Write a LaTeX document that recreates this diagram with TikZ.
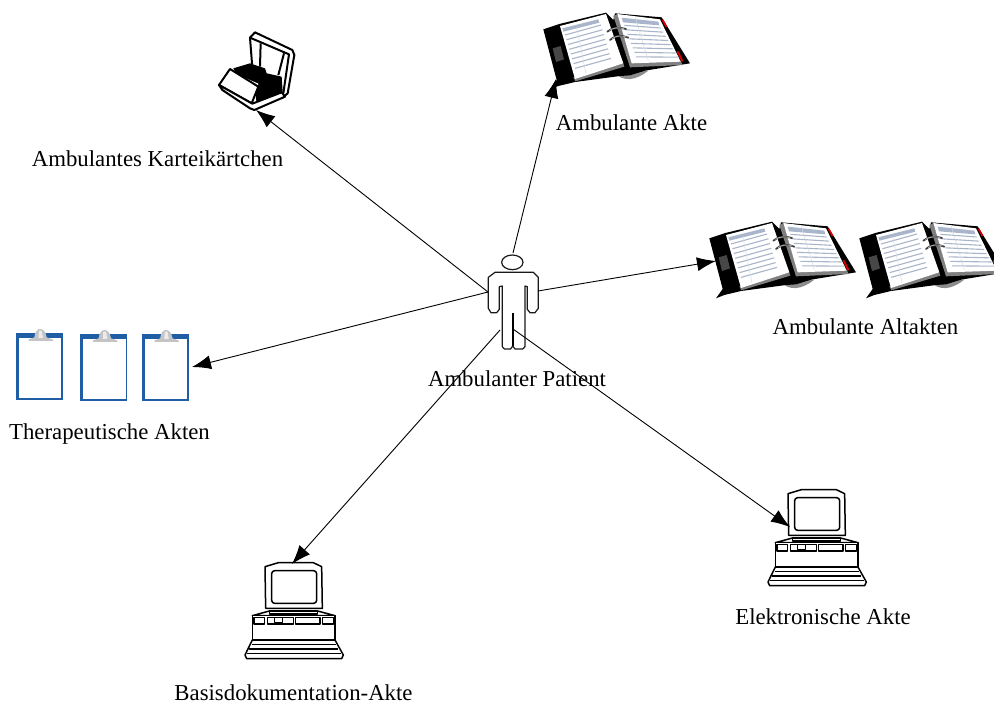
\documentclass[tikz,border=0pt]{standalone}
\usepackage{fontspec}
\setmainfont{Liberation Serif}
\usetikzlibrary{arrows.meta}
\definecolor{clipblue}{HTML}{1F5EA5}
\definecolor{clipgrey}{HTML}{C4C4C4}
\definecolor{pageline}{HTML}{A9B5CA}
\definecolor{pagegrey}{HTML}{808080}
\tikzset{
  lbl/.style={inner sep=0pt,font=\fontsize{22.8}{26}\selectfont,text=black,anchor=base},
  conn/.style={draw=black,line width=0.9pt,-{Latex[length=19pt,width=14pt]}},
  ico/.style={draw=black,line width=1.5pt,line join=round,fill=white},
  card/.style={draw=black,line width=2pt,line join=round,fill=white},
  bookicon/.pic={
    \fill[black!45] (250,215) .. controls (280,250) and (320,240) .. (355,212) -- cycle;
    \fill[black] (40,88)--(88,72)--(228,38)--(250,60)--(255,40)--(395,52)--(480,190)--(345,212)--(300,226)--(270,228)--(135,246)--(85,258)--(60,268)--(80,240)--cycle;
    \fill[black!72] (68,145)--(92,138)--(102,178)--(78,186)--cycle;
    \fill[pagegrey] (280,190)--(283,200)--(136,244)--(130,232)--cycle;
    \fill[white] (90,78)--(228,42)--(280,190)--(135,237)--cycle;
    \fill[pageline] (97,85)--(205,58)--(208,68)--(100,95)--cycle;
    \foreach \t in {0,1,...,7}{
      \draw[pageline,line width=1.1pt] ({105+\t*4.3},{105+\t*14.3}) -- ({213+\t*4.3},{75+\t*14.3});
    }
    \draw[pageline!50,line width=0.5pt] (140,82)--(168,222);
    \fill[pagegrey] (250,48)--(262,42)--(305,186)--(452,182)--(458,195)--(300,202)--cycle;
    \fill[white] (262,42)--(390,58)--(452,185)--(305,190)--cycle;
    \fill[pageline] (275,53)--(385,65)--(388,76)--(279,67)--cycle;
    \foreach \t in {0,1,...,7}{
      \draw[pageline,line width=1.1pt] ({283+\t*5},{76+\t*13.5}) -- ({392+\t*7.5},{84+\t*12.5});
    }
    \draw[pageline!50,line width=0.5pt] (315,50)--(355,182);
    \fill[red!85!black] (395,60)--(400,58)--(412,80)--(407,82)--cycle;
    \fill[red!85!black] (440,155)--(445,153)--(460,182)--(455,186)--cycle;
    \draw[black!75,line width=1.8pt,line cap=round] (232,95) .. controls (245,83) and (268,80) .. (288,87);
    \draw[black!75,line width=1.8pt,line cap=round] (240,120) .. controls (252,107) and (275,104) .. (295,113);
    \draw[black!25,line width=0.6pt] (238,91) .. controls (250,83) and (268,82) .. (282,86);
    \draw[black!25,line width=0.6pt] (246,116) .. controls (257,107) and (275,106) .. (289,111);
  },
  clipicon/.pic={
    \fill[clipblue] (0,0) rectangle (141,200);
    \fill[white] (10,15) rectangle (137,195);
    \fill[clipgrey] (38,24) -- (40,18) -- (56,12) .. controls (58,-6) and (66,-13) .. (73,-13) .. controls (82,-13) and (90,-6) .. (93,12) -- (110,18) -- (114,24) -- cycle;
    \fill[black!8] (70,-8) -- (78,-8) -- (82,14) -- (68,14) -- cycle;
    \fill[white] (38,24) rectangle (114,27);
  },
  compicon/.pic={
    \draw[ico] (90,50)--(130,38)--(235,38)--(260,50)--(262,175)--(92,175)--cycle;
    \draw[ico,rounded corners=3pt] (110,62) rectangle (245,160);
    \draw[ico] (52,197)--(103,183)--(248,183)--(300,197)--cycle;
    \draw[ico] (103,183) rectangle (248,192);
    \draw[ico] (52,197) rectangle (300,270);
    \draw[ico] (57,203) rectangle (88,222);
    \draw[ico] (97,203) rectangle (175,222);
    \draw[ico] (118,203) rectangle (142,218);
    \draw[ico] (182,203) rectangle (255,222);
    \draw[ico] (262,203) rectangle (296,222);
    \draw[ico] (52,270)--(30,315)--(35,326)--(320,326)--(325,315)--(300,270)--cycle;
    \draw[black,line width=1.5pt] (50,283)--(303,283) (43,297)--(310,297) (37,311)--(317,311);
  },
  cardicon/.pic={
    \draw[card] (105,38)--(120,22)--(232,75)--(238,90)--(218,205)--(200,220)--(112,128)--cycle;
    \draw[black,line width=2pt,line join=round] (105,38)--(222,88)--(205,205);
    \draw[black,line width=2pt] (137,55)--(135,125) (207,85)--(190,150);
    \fill[black] (55,130)--(105,115)--(150,130)--(155,145)--(200,155)--(203,200)--(125,238)--(120,190)--(70,160)--cycle;
    \fill[white] (75,152)--(130,176)--(128,186)--cycle;
    \draw[card] (12,180)--(45,132)--(130,185)--(110,235)--cycle;
    \draw[card] (12,180)--(22,195)--(105,250)--(118,255)--(210,215)--(200,202)--(112,236)--cycle;
  }
}
\begin{document}
\begin{tikzpicture}[x=1pt,y=-1pt]
\useasboundingbox (0,0) rectangle (994,702);
\fill[white] (0,0) rectangle (994,702);
% icons
\pic[scale=1/3] at (215,25) {cardicon};
\pic[scale=1/3] at (530,0) {bookicon};
\pic[scale=1/3] at (696,209) {bookicon};
\begin{scope}
\clip (0,0) rectangle (994,702);
\pic[scale=1/3] at (846,209) {bookicon};
\end{scope}
\pic[scale=1/3] at (15.7,333.3) {clipicon};
\pic[scale=1/3] at (80,334.3) {clipicon};
\pic[scale=1/3] at (141.5,334.3) {clipicon};
\pic[scale=1/3] at (235,550) {compicon};
\pic[scale=1/3] at (758,477) {compicon};
% patient
\begin{scope}[shift={(470,240)},scale=1/3]
\draw[black!90,line width=1.2pt,line join=round]
 (75,97)--(190,97)--(205,112)--(205,205)--(195,218)--(180,218)--(172,208)--(172,140)--(165,138)--(165,320)--(158,327)--(135,327)--(128,318)--(122,327)--(103,327)--(97,320)--(97,138)--(88,140)--(88,208)--(80,218)--(63,218)--(55,205)--(55,112)--cycle;
\draw[black,line width=1.8pt] (128,218)--(128,318);
\draw[black!90,line width=1.2pt] (127,67) ellipse [x radius=32,y radius=22];
\end{scope}
% named connection points
\coordinate (patientTop) at (513,253);
\coordinate (patientLeft) at (488,292);
\coordinate (patientRight) at (538,291);
\coordinate (patientLL) at (500,330);
\coordinate (patientLR) at (513,329);
\coordinate (card) at (256,110);
\coordinate (book) at (556,79);
\coordinate (oldbooks) at (716,261);
\coordinate (clip) at (192,367);
\coordinate (comp) at (292,564);
\coordinate (ecomp) at (790,527);
\draw[conn] (patientTop) -- (book);
\draw[conn] (patientLeft) -- (card);
\draw[conn] (patientRight) -- (oldbooks);
\draw[conn] (patientLeft) -- (clip);
\draw[conn] (patientLL) -- (comp);
\draw[conn] (patientLR) -- (ecomp);
% labels
\node[lbl] (lcard) at (157.5,166) {Ambulantes Karteikärtchen};
\node[lbl] (lbook) at (631.5,130) {Ambulante Akte};
\node[lbl] (lold) at (865.5,334) {Ambulante Altakten};
\node[lbl] (lpat) at (517,386) {Ambulanter Patient};
\node[lbl] (lther) at (109.5,439) {Therapeutische Akten};
\node[lbl] (lel) at (823,624) {Elektronische Akte};
\node[lbl] (lbas) at (293.5,700) {Basisdokumentation-Akte};
\end{tikzpicture}
\end{document}
